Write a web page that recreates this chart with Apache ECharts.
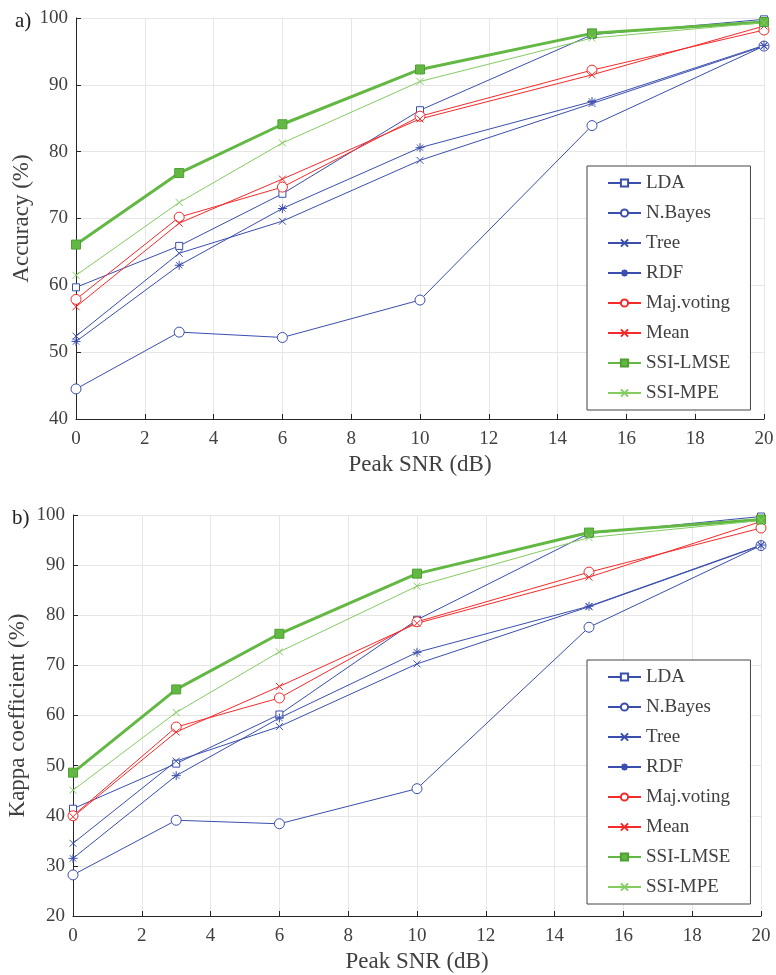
<!DOCTYPE html>
<html>
<head>
<meta charset="utf-8">
<script src="https://cdn.jsdelivr.net/npm/echarts@6/dist/echarts.min.js"></script>
<style>
  html, body { margin: 0; padding: 0; background: #fff; }
  #chart { width: 776px; height: 975px; }
</style>
</head>
<body>
<div id="chart"></div>
<script>
// Peak SNR levels (dB)
var snr = [0, 3, 6, 10, 15, 20];
var methods = ['LDA', 'N.Bayes', 'Tree', 'RDF', 'Maj.voting', 'Mean', 'SSI-LMSE', 'SSI-MPE'];

// a) accuracy (%)
var accLDA     = [59.7, 65.9, 73.7, 86.2, 97.5, 99.8];
var accNBayes  = [44.5, 53.0, 52.2, 57.8, 83.9, 95.8];
var accTree    = [52.4, 64.8, 69.6, 78.7, 87.2, 95.8];
var accRDF     = [51.6, 63.0, 71.5, 80.6, 87.5, 95.9];
var accMaj     = [57.9, 70.2, 74.7, 85.3, 92.2, 98.2];
var accMean    = [56.8, 69.3, 75.9, 84.9, 91.5, 98.8];
var accLMSE    = [66.1, 76.8, 84.1, 92.3, 97.7, 99.4];
var accMPE     = [61.5, 72.4, 81.3, 90.5, 97.0, 99.3];

// b) kappa coefficient (%)
var kapLDA     = [41.4, 50.4, 60.2, 79.1, 96.3, 99.7];
var kapNBayes  = [28.2, 39.1, 38.4, 45.4, 77.6, 93.9];
var kapTree    = [34.5, 50.9, 57.8, 70.3, 81.7, 93.9];
var kapRDF     = [31.5, 48.0, 59.5, 72.6, 81.8, 94.0];
var kapMaj     = [40.0, 57.7, 63.5, 78.7, 88.6, 97.4];
var kapMean    = [39.8, 56.7, 65.8, 78.4, 87.6, 98.7];
var kapLMSE    = [48.6, 65.2, 76.3, 88.3, 96.5, 99.1];
var kapMPE     = [45.1, 60.6, 72.7, 85.8, 95.5, 98.9];

var FONT = 'Liberation Serif';
var TXT = '#404040';
var BLUE = '#3a4eae';
var RED = '#f52a2a';
var GREEN = '#62b843';
var LGREEN = '#84cc62';

var X_PATH = 'path://M0,0L10,10M10,0L0,10';
var STAR_PATH = 'path://M5,0L5,10M0,5L10,5M1.5,1.5L8.5,8.5M8.5,1.5L1.5,8.5';

// marker / line style for each method
var styles = {
  'LDA':        { color: BLUE,   symbol: 'rect',    size: 7,  width: 1, hollow: true },
  'N.Bayes':    { color: BLUE,   symbol: 'circle',  size: 10, width: 1, hollow: true },
  'Tree':       { color: BLUE,   symbol: X_PATH,    size: 7,  width: 1 },
  'RDF':        { color: BLUE,   symbol: STAR_PATH, size: 9,  width: 1 },
  'Maj.voting': { color: RED,    symbol: 'circle',  size: 10, width: 1, hollow: true },
  'Mean':       { color: RED,    symbol: X_PATH,    size: 7,  width: 1 },
  'SSI-LMSE':   { color: GREEN,  symbol: 'rect',    size: 9,  width: 3, filled: true },
  'SSI-MPE':    { color: LGREEN, symbol: X_PATH,    size: 7,  width: 1 }
};

function pairs(vals) {
  return snr.map(function (x, i) { return [x, vals[i]]; });
}

function makeSeries(name, vals, idx) {
  var s = styles[name];
  var item;
  if (s.filled) {
    item = { color: s.color, borderColor: '#4fa032', borderWidth: 1 };
  } else if (s.hollow) {
    item = { color: '#fff', borderColor: s.color, borderWidth: 1 };
  } else {
    item = { color: s.color, borderColor: s.color, borderWidth: 1 };
  }
  return {
    name: name,
    type: 'line',
    xAxisIndex: idx,
    yAxisIndex: idx,
    data: pairs(vals),
    symbol: s.symbol,
    symbolSize: s.size,
    showSymbol: true,
    lineStyle: { color: s.color, width: s.width },
    itemStyle: item,
    emphasis: { disabled: true },
    animation: false
  };
}

function xAxisCfg(gridIndex) {
  return {
    type: 'value',
    gridIndex: gridIndex,
    min: 0, max: 20, interval: 2,
    name: 'Peak SNR (dB)',
    nameLocation: 'middle',
    nameGap: 34,
    nameMoveOverlap: false,
    nameTextStyle: { fontFamily: FONT, fontSize: 23, color: TXT },
    axisLine: { lineStyle: { color: '#262626', width: 1 } },
    axisTick: { inside: true, length: 5, lineStyle: { color: '#262626' } },
    axisLabel: { margin: 11, fontFamily: FONT, fontSize: 19, color: TXT },
    splitLine: { show: true, lineStyle: { color: '#e6e6e6', width: 1 } }
  };
}

function yAxisCfg(gridIndex, name, min, gap) {
  return {
    type: 'value',
    gridIndex: gridIndex,
    min: min, max: 100, interval: 10,
    name: name,
    nameLocation: 'middle',
    nameGap: gap,
    nameMoveOverlap: false,
    nameTextStyle: { fontFamily: FONT, fontSize: 23, color: TXT },
    axisLine: { show: true, lineStyle: { color: '#262626', width: 1 } },
    axisTick: { show: true, inside: true, length: 5, lineStyle: { color: '#262626' } },
    axisLabel: { margin: 8, fontFamily: FONT, fontSize: 19, color: TXT },
    splitLine: { show: true, lineStyle: { color: '#e6e6e6', width: 1 } }
  };
}

function legendCfg(top) {
  return {
    data: methods,
    orient: 'vertical',
    left: 587,
    top: top,
    itemWidth: 33,
    itemHeight: 9,
    itemGap: 10,
    padding: [7, 20, 7, 20],
    borderColor: '#444',
    borderWidth: 1,
    backgroundColor: '#fff',
    selectedMode: false,
    textStyle: { fontFamily: FONT, fontSize: 19, color: TXT, lineHeight: 20 }
  };
}

var accSets = [accLDA, accNBayes, accTree, accRDF, accMaj, accMean, accLMSE, accMPE];
var kapSets = [kapLDA, kapNBayes, kapTree, kapRDF, kapMaj, kapMean, kapLMSE, kapMPE];

var series = [];
methods.forEach(function (m, i) { series.push(makeSeries(m, accSets[i], 0)); });
methods.forEach(function (m, i) { series.push(makeSeries(m, kapSets[i], 1)); });

var chart = echarts.init(document.getElementById('chart'), null, { renderer: 'canvas' });
chart.setOption({
  backgroundColor: '#fff',
  animation: false,
  title: [
    { text: 'a)', left: 10, top: 6, textStyle: { fontFamily: FONT, fontSize: 21, fontWeight: 'normal', color: '#222' } },
    { text: 'b)', left: 7, top: 503, textStyle: { fontFamily: FONT, fontSize: 21, fontWeight: 'normal', color: '#222' } }
  ],
  grid: [
    { left: 76, top: 18, width: 688, height: 401, outerBoundsMode: 'none', containLabel: false },
    { left: 73, top: 515, width: 688, height: 401, outerBoundsMode: 'none', containLabel: false }
  ],
  xAxis: [xAxisCfg(0), xAxisCfg(1)],
  yAxis: [yAxisCfg(0, 'Accuracy (%)', 40, 43), yAxisCfg(1, 'Kappa coefficient (%)', 20, 44)],
  legend: [legendCfg(166), legendCfg(660)],
  series: series
});
</script>
</body>
</html>
